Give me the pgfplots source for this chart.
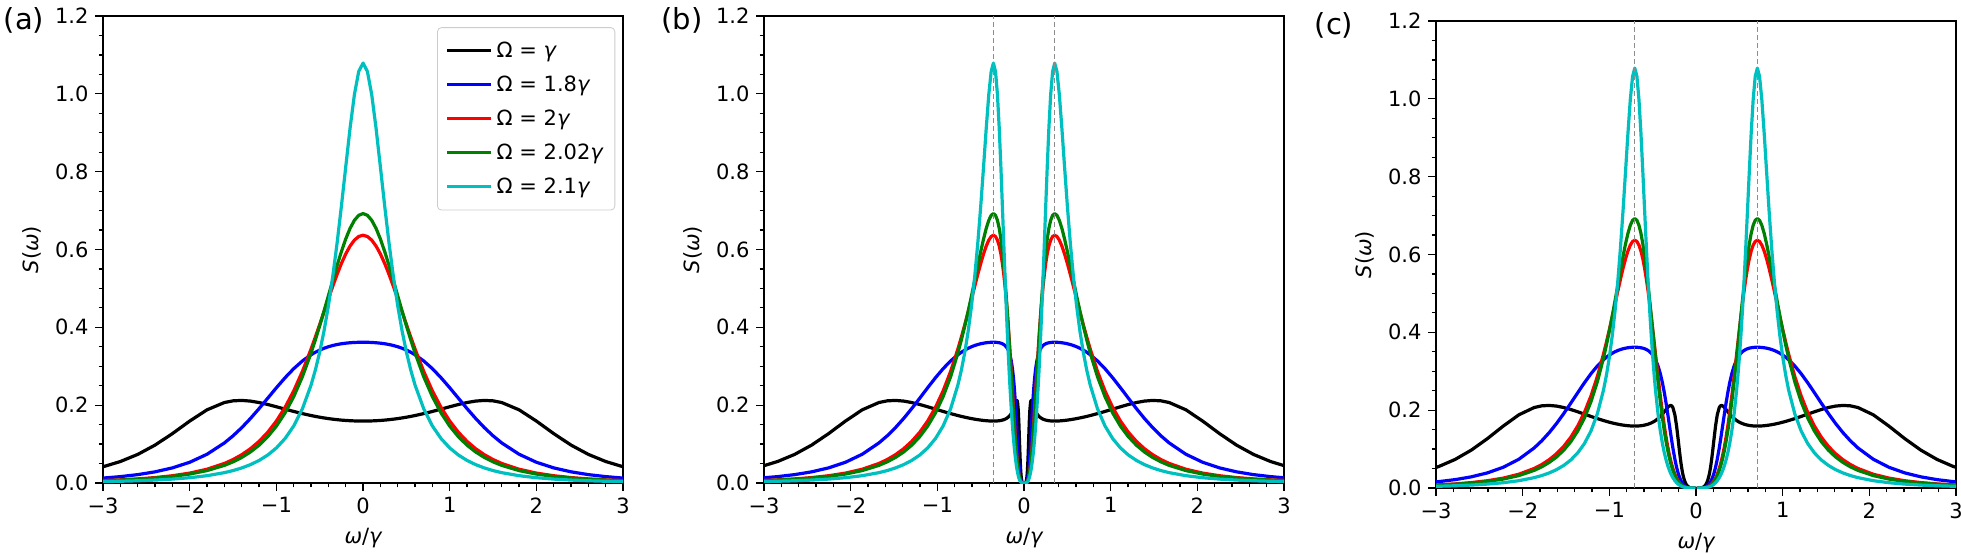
\documentclass[border=0pt]{standalone}
\usepackage{fontspec}
\setmainfont{DejaVu Sans}
\usepackage{pgfplots}
\usepackage{pgfplotstable}
\pgfplotsset{compat=1.18}

\definecolor{mplgreen}{rgb}{0,0.5,0}
\definecolor{mplcyan}{rgb}{0,0.75,0.75}
\definecolor{legframe}{gray}{0.8}
\definecolor{dashgray}{gray}{0.55}

% u: omega/gamma in (a); wbp/wbm, wcp/wcm: the same points in (b) and (c)
\pgfplotstableread{
u wbp wbm wcp wcm s1 s2 s3 s4 s5
-60 0.00208 -60.00208 0.00833 -60.00833 0 0 0 0 0
-25 0.00500 -25.00500 0.01999 -25.01999 0.00001 0 0 0 0
-14 0.00893 -14.00893 0.03562 -14.03562 0.00007 0.00003 0.00002 0.00002 0.00001
-9 0.01387 -9.01387 0.05522 -9.05522 0.00041 0.00017 0.00009 0.00009 0.00006
-6.5 0.01918 -6.51918 0.07603 -6.57603 0.00156 0.00062 0.00034 0.00031 0.00020
-5 0.02488 -5.02488 0.09808 -5.09808 0.00471 0.00175 0.00094 0.00086 0.00054
-4.2 0.02956 -4.22956 0.11585 -4.31585 0.00992 0.00347 0.00183 0.00167 0.00104
-3.6 0.03440 -3.63440 0.13391 -3.73391 0.01927 0.00632 0.00327 0.00297 0.00183
-3.2 0.03860 -3.23860 0.14929 -3.34929 0.03187 0.00993 0.00504 0.00458 0.00280
-3.0 0.04111 -3.04111 0.15831 -3.15831 0.04175 0.01267 0.00637 0.00578 0.00352
-2.8 0.04396 -2.84396 0.16844 -2.96844 0.05523 0.01640 0.00815 0.00739 0.00448
-2.6 0.04722 -2.64722 0.17987 -2.77987 0.07348 0.02153 0.01057 0.00957 0.00577
-2.4 0.05100 -2.45100 0.19284 -2.59284 0.09743 0.02870 0.01393 0.01260 0.00755
-2.2 0.05542 -2.25542 0.20767 -2.40767 0.12691 0.03884 0.01867 0.01686 0.01004
-2.0 0.06066 -2.06066 0.22474 -2.22474 0.15915 0.05331 0.02546 0.02297 0.01360
-1.8 0.06696 -1.86696 0.24455 -2.04455 0.18810 0.07395 0.03541 0.03191 0.01880
-1.6 0.07465 -1.67465 0.26771 -1.86771 0.20680 0.10298 0.05023 0.04527 0.02660
-1.5 0.07916 -1.57916 0.28078 -1.78078 0.21111 0.12126 0.06027 0.05436 0.03195
-1.4 0.08422 -1.48422 0.29499 -1.69499 0.21218 0.14219 0.07266 0.06561 0.03866
-1.3 0.08993 -1.38993 0.31047 -1.61047 0.21052 0.16563 0.08798 0.07961 0.04713
-1.2 0.09642 -1.29642 0.32736 -1.52736 0.20680 0.19112 0.10693 0.09707 0.05794
-1.1 0.10384 -1.20384 0.34582 -1.44582 0.20172 0.21788 0.13034 0.11889 0.07190
-1.0 0.11237 -1.11237 0.36603 -1.36603 0.19588 0.24477 0.15916 0.14612 0.09012
-0.9 0.12228 -1.02228 0.38815 -1.28815 0.18981 0.27048 0.19432 0.18002 0.11422
-0.8 0.13386 -0.93386 0.41241 -1.21241 0.18387 0.29374 0.23670 0.22191 0.14658
-0.7 0.14749 -0.84749 0.43899 -1.13899 0.17833 0.31360 0.28675 0.27299 0.19066
-0.6 0.16368 -0.76368 0.46811 -1.06811 0.17335 0.32954 0.34419 0.33394 0.25160
-0.55 0.17291 -0.72291 0.48370 -1.03370 0.17112 0.33604 0.37525 0.36801 0.29057
-0.5 0.18301 -0.68301 0.50000 -1.00000 0.16906 0.34159 0.40744 0.40421 0.33669
-0.45 0.19408 -0.64408 0.51704 -0.96704 0.16719 0.34627 0.44026 0.44209 0.39120
-0.4 0.20620 -0.60620 0.53485 -0.93485 0.16551 0.35014 0.47311 0.48106 0.45534
-0.35 0.21949 -0.56949 0.55344 -0.90344 0.16403 0.35330 0.50525 0.52022 0.53011
-0.3 0.23406 -0.53406 0.57284 -0.87284 0.16274 0.35582 0.53583 0.55850 0.61575
-0.25 0.25000 -0.50000 0.59307 -0.84307 0.16164 0.35780 0.56392 0.59459 0.71104
-0.2 0.26742 -0.46742 0.61414 -0.81414 0.16075 0.35930 0.58859 0.62701 0.81213
-0.15 0.28642 -0.43642 0.63607 -0.78607 0.16005 0.36040 0.60890 0.65428 0.91155
-0.1 0.30707 -0.40707 0.65887 -0.75887 0.15955 0.36115 0.62408 0.67496 0.99790
-0.05 0.32944 -0.37944 0.68255 -0.73255 0.15925 0.36158 0.63345 0.68789 1.05759
0 0.35355 -0.35355 0.70711 -0.70711 0.15915 0.36172 0.63662 0.69229 1.07903
0.05 0.37944 -0.32944 0.73255 -0.68255 0.15925 0.36158 0.63345 0.68789 1.05759
0.1 0.40707 -0.30707 0.75887 -0.65887 0.15955 0.36115 0.62408 0.67496 0.99790
0.15 0.43642 -0.28642 0.78607 -0.63607 0.16005 0.36040 0.60890 0.65428 0.91155
0.2 0.46742 -0.26742 0.81414 -0.61414 0.16075 0.35930 0.58859 0.62701 0.81213
0.25 0.50000 -0.25000 0.84307 -0.59307 0.16164 0.35780 0.56392 0.59459 0.71104
0.3 0.53406 -0.23406 0.87284 -0.57284 0.16274 0.35582 0.53583 0.55850 0.61575
0.35 0.56949 -0.21949 0.90344 -0.55344 0.16403 0.35330 0.50525 0.52022 0.53011
0.4 0.60620 -0.20620 0.93485 -0.53485 0.16551 0.35014 0.47311 0.48106 0.45534
0.45 0.64408 -0.19408 0.96704 -0.51704 0.16719 0.34627 0.44026 0.44209 0.39120
0.5 0.68301 -0.18301 1.00000 -0.50000 0.16906 0.34159 0.40744 0.40421 0.33669
0.55 0.72291 -0.17291 1.03370 -0.48370 0.17112 0.33604 0.37525 0.36801 0.29057
0.6 0.76368 -0.16368 1.06811 -0.46811 0.17335 0.32954 0.34419 0.33394 0.25160
0.7 0.84749 -0.14749 1.13899 -0.43899 0.17833 0.31360 0.28675 0.27299 0.19066
0.8 0.93386 -0.13386 1.21241 -0.41241 0.18387 0.29374 0.23670 0.22191 0.14658
0.9 1.02228 -0.12228 1.28815 -0.38815 0.18981 0.27048 0.19432 0.18002 0.11422
1.0 1.11237 -0.11237 1.36603 -0.36603 0.19588 0.24477 0.15916 0.14612 0.09012
1.1 1.20384 -0.10384 1.44582 -0.34582 0.20172 0.21788 0.13034 0.11889 0.07190
1.2 1.29642 -0.09642 1.52736 -0.32736 0.20680 0.19112 0.10693 0.09707 0.05794
1.3 1.38993 -0.08993 1.61047 -0.31047 0.21052 0.16563 0.08798 0.07961 0.04713
1.4 1.48422 -0.08422 1.69499 -0.29499 0.21218 0.14219 0.07266 0.06561 0.03866
1.5 1.57916 -0.07916 1.78078 -0.28078 0.21111 0.12126 0.06027 0.05436 0.03195
1.6 1.67465 -0.07465 1.86771 -0.26771 0.20680 0.10298 0.05023 0.04527 0.02660
1.8 1.86696 -0.06696 2.04455 -0.24455 0.18810 0.07395 0.03541 0.03191 0.01880
2.0 2.06066 -0.06066 2.22474 -0.22474 0.15915 0.05331 0.02546 0.02297 0.01360
2.2 2.25542 -0.05542 2.40767 -0.20767 0.12691 0.03884 0.01867 0.01686 0.01004
2.4 2.45100 -0.05100 2.59284 -0.19284 0.09743 0.02870 0.01393 0.01260 0.00755
2.6 2.64722 -0.04722 2.77987 -0.17987 0.07348 0.02153 0.01057 0.00957 0.00577
2.8 2.84396 -0.04396 2.96844 -0.16844 0.05523 0.01640 0.00815 0.00739 0.00448
3.0 3.04111 -0.04111 3.15831 -0.15831 0.04175 0.01267 0.00637 0.00578 0.00352
3.2 3.23860 -0.03860 3.34929 -0.14929 0.03187 0.00993 0.00504 0.00458 0.00280
3.6 3.63440 -0.03440 3.73391 -0.13391 0.01927 0.00632 0.00327 0.00297 0.00183
4.2 4.22956 -0.02956 4.31585 -0.11585 0.00992 0.00347 0.00183 0.00167 0.00104
5 5.02488 -0.02488 5.09808 -0.09808 0.00471 0.00175 0.00094 0.00086 0.00054
6.5 6.51918 -0.01918 6.57603 -0.07603 0.00156 0.00062 0.00034 0.00031 0.00020
9 9.01387 -0.01387 9.05522 -0.05522 0.00041 0.00017 0.00009 0.00009 0.00006
14 14.00893 -0.00893 14.03562 -0.03562 0.00007 0.00003 0.00002 0.00002 0.00001
25 25.00500 -0.00500 25.01999 -0.01999 0.00001 0 0 0 0
60 60.00208 -0.00208 60.00833 -0.00833 0 0 0 0 0
}\spec

\pgfplotsset{
  panel/.style={
    anchor=south west,
    width=260pt, height=233.5pt, scale only axis,
    xmin=-3, xmax=3, ymin=0, ymax=1.2,
    xtick={-3,-2,-1,0,1,2,3},
    xticklabels={−3,−2,−1,0,1,2,3},
    ytick={0,0.2,0.4,0.6,0.8,1.0,1.2},
    yticklabels={0.0,0.2,0.4,0.6,0.8,1.0,1.2},
    minor x tick num=4, minor y tick num=3,
    tick pos=left, tick align=outside,
    major tick length=3.8pt, minor tick length=2.2pt,
    every tick/.style={black, line width=0.6pt},
    axis line style={line width=0.8pt},
    font=\fontsize{10.5pt}{12.6pt}\selectfont,
    xlabel={{\itshape ω}/{\itshape γ}},
    ylabel={{\itshape S}({\itshape ω})},
    xlabel style={at={(axis description cs:0.5,-0.118)}, anchor=center},
    ylabel style={at={(axis description cs:-0.137,0.5)}, anchor=center},
    every axis plot/.append style={line width=1.6pt, line join=round},
  },
  guide/.style={dashgray, dash pattern=on 2.5pt off 1.5pt, line width=0.6pt, forget plot},
}

\begin{document}
\begin{tikzpicture}
\path[use as bounding box] (0,0) rectangle (980.5pt,276.5pt);

% (a)
\begin{axis}[panel, at={(51.5pt,35pt)},
  legend style={at={(0.985,0.976)}, anchor=north east, draw=legframe,
    rounded corners=2pt, fill=white, row sep=3.7pt,
    inner xsep=4pt, inner ysep=5pt,
    font=\fontsize{10.5pt}{12.6pt}\selectfont},
  legend cell align=left,
  legend image code/.code={\draw[#1] (0pt,0pt) -- (22pt,0pt);},
]
\addplot[black] table[x=u, y=s1] {\spec};
\addlegendentry{Ω = {\itshape γ}}
\addplot[blue] table[x=u, y=s2] {\spec};
\addlegendentry{Ω = 1.8{\itshape γ}}
\addplot[red] table[x=u, y=s3] {\spec};
\addlegendentry{Ω = 2{\itshape γ}}
\addplot[mplgreen] table[x=u, y=s4] {\spec};
\addlegendentry{Ω = 2.02{\itshape γ}}
\addplot[mplcyan] table[x=u, y=s5] {\spec};
\addlegendentry{Ω = 2.1{\itshape γ}}
\end{axis}

% (b)
\begin{axis}[panel, at={(382pt,35pt)}]
\addplot[black] table[x=wbp, y=s1] {\spec};
\addplot[black] table[x=wbm, y=s1] {\spec};
\addplot[blue] table[x=wbp, y=s2] {\spec};
\addplot[blue] table[x=wbm, y=s2] {\spec};
\addplot[red] table[x=wbp, y=s3] {\spec};
\addplot[red] table[x=wbm, y=s3] {\spec};
\addplot[mplgreen] table[x=wbp, y=s4] {\spec};
\addplot[mplgreen] table[x=wbm, y=s4] {\spec};
\addplot[mplcyan] table[x=wbp, y=s5] {\spec};
\addplot[mplcyan] table[x=wbm, y=s5] {\spec};
\addplot[guide] coordinates {(-0.3536,0) (-0.3536,1.2)};
\addplot[guide] coordinates {(0.3536,0) (0.3536,1.2)};
\end{axis}

% (c)
\begin{axis}[panel, at={(718pt,32.5pt)}]
\addplot[black] table[x=wcp, y=s1] {\spec};
\addplot[black] table[x=wcm, y=s1] {\spec};
\addplot[blue] table[x=wcp, y=s2] {\spec};
\addplot[blue] table[x=wcm, y=s2] {\spec};
\addplot[red] table[x=wcp, y=s3] {\spec};
\addplot[red] table[x=wcm, y=s3] {\spec};
\addplot[mplgreen] table[x=wcp, y=s4] {\spec};
\addplot[mplgreen] table[x=wcm, y=s4] {\spec};
\addplot[mplcyan] table[x=wcp, y=s5] {\spec};
\addplot[mplcyan] table[x=wcm, y=s5] {\spec};
\addplot[guide] coordinates {(-0.7071,0) (-0.7071,1.2)};
\addplot[guide] coordinates {(0.7071,0) (0.7071,1.2)};
\end{axis}

\node[font=\fontsize{14.5pt}{17pt}\selectfont] at (12pt,266.5pt) {(a)};
\node[font=\fontsize{14.5pt}{17pt}\selectfont] at (341pt,266.5pt) {(b)};
\node[font=\fontsize{14.5pt}{17pt}\selectfont] at (667pt,264pt) {(c)};
\end{tikzpicture}
\end{document}
